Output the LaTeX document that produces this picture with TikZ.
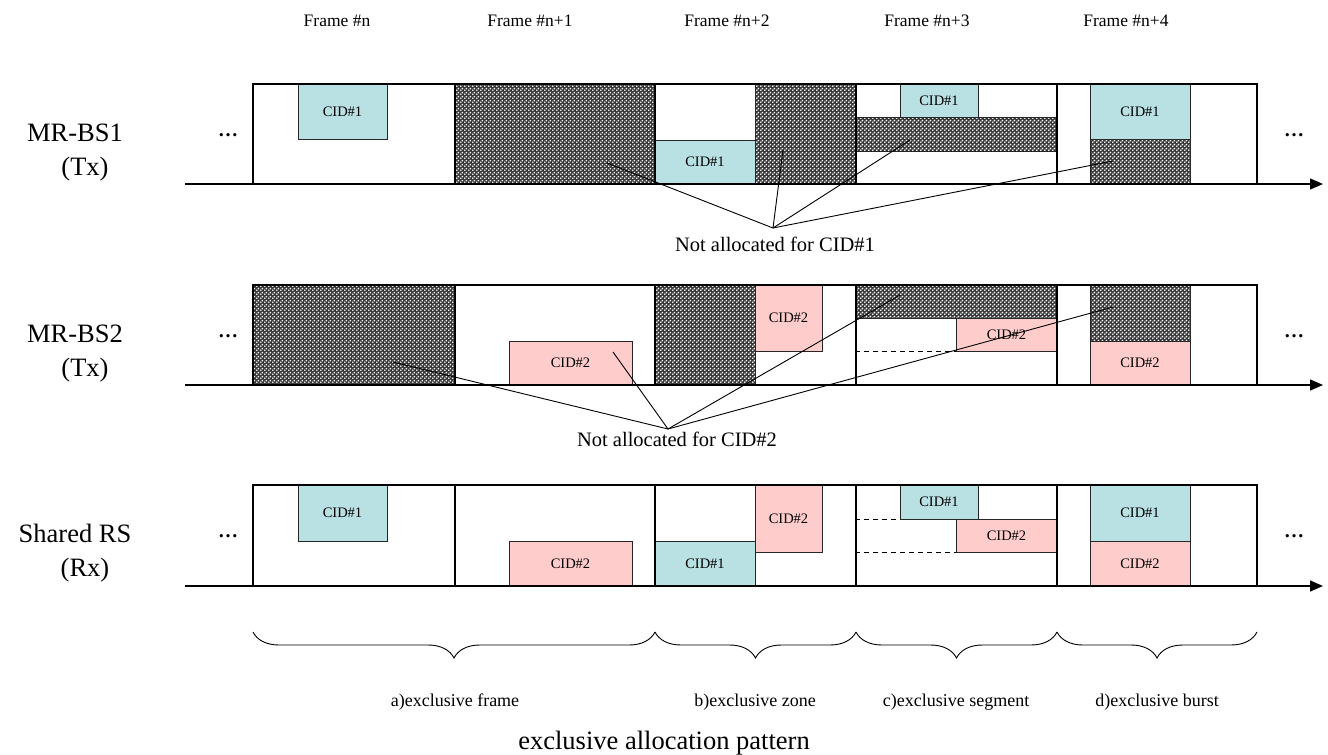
\documentclass[tikz,border=0pt]{standalone}
\usepackage{fontspec}
\setmainfont{Liberation Serif}
\usetikzlibrary{patterns,decorations.pathreplacing,arrows.meta}
\pgfdeclarepatternformonly{meshdots}{\pgfpointorigin}{\pgfpoint{4pt}{4pt}}{\pgfpoint{4pt}{4pt}}{%
  \pgfpathcircle{\pgfpoint{1pt}{1pt}}{1.1pt}%
  \pgfpathcircle{\pgfpoint{3pt}{3pt}}{1.1pt}%
  \pgfusepath{fill}}
\definecolor{cidA}{HTML}{B9E0E3}
\definecolor{cidB}{HTML}{FFCCCC}
\newcommand\blk[7]{\node[#2, minimum width={(#5)-(#3)}, minimum height={(#6)-(#4)}] (#1) at ({((#3)+(#5))/2},{((#4)+(#6))/2}) {#7};}
\begin{document}
\begin{tikzpicture}[x=1pt,y=-1pt,
  blkbase/.style={inner sep=0pt, outer sep=0pt, draw=black!85, line width=0.9pt, anchor=center},
  cidone/.style={blkbase, fill=cidA, font=\fontsize{14.5}{16}\selectfont},
  cidtwo/.style={blkbase, fill=cidB, font=\fontsize{14.5}{16}\selectfont},
  hatch/.style={blkbase, preaction={fill=black!78}, pattern=meshdots, pattern color=white},
  framebox/.style={inner sep=0pt, outer sep=0pt, draw, line width=2.2pt, anchor=center},
  axis/.style={line width=1.3pt, -{Triangle[length=13pt,width=11pt]}},
  pointer/.style={line width=0.9pt},
  dashline/.style={dashed, line width=0.9pt, dash pattern=on 5pt off 4pt},
  rowlbl/.style={font=\fontsize{26.5}{30}\selectfont, anchor=base},
  ttl/.style={font=\fontsize{17.5}{20}\selectfont, anchor=base},
  notal/.style={font=\fontsize{20.5}{24}\selectfont, anchor=base},
  brlbl/.style={font=\fontsize{18}{21}\selectfont, anchor=base},
  caplbl/.style={font=\fontsize{26.5}{30}\selectfont, anchor=base},
  dotlbl/.style={font=\fontsize{20}{22}\selectfont\bfseries, anchor=base},
  brace/.style={decorate, decoration={brace, mirror, amplitude=26pt}, line width=0.9pt}
]
\useasboundingbox (0,0) rectangle (1328,755);

% frame titles
\node[ttl] (t0) at (337,26) {Frame \#n};
\node[ttl] (t1) at (530,26) {Frame \#n+1};
\node[ttl] (t2) at (727,26) {Frame \#n+2};
\node[ttl] (t3) at (927,26) {Frame \#n+3};
\node[ttl] (t4) at (1126,26) {Frame \#n+4};

% row labels
\node[rowlbl] (l1a) at (75,141.5) {MR-BS1};
\node[rowlbl] (l1b) at (85,175) {(Tx)};
\node[rowlbl] (l2a) at (75,342.5) {MR-BS2};
\node[rowlbl] (l2b) at (85,376) {(Tx)};
\node[rowlbl] (l3a) at (75,542.5) {Shared RS};
\node[rowlbl] (l3b) at (85,576) {(Rx)};

% dots
\node[dotlbl] (d1l) at (228,136) {…};
\node[dotlbl] (d1r) at (1294,136) {…};
\node[dotlbl] (d2l) at (228,337) {…};
\node[dotlbl] (d2r) at (1294,337) {…};
\node[dotlbl] (d3l) at (228,537) {…};
\node[dotlbl] (d3r) at (1294,537) {…};

% axes
\coordinate (a1s) at (185,184); \coordinate (a1e) at (1323,184);
\coordinate (a2s) at (185,385); \coordinate (a2e) at (1323,385);
\coordinate (a3s) at (185,586); \coordinate (a3e) at (1323,586);
\draw[axis] (a1s) -- (a1e);
\draw[axis] (a2s) -- (a2e);
\draw[axis] (a3s) -- (a3e);

% ---------- row 1 : MR-BS1 ----------
\blk{h11}{hatch}{455}{84}{655}{184}{}
\blk{h12}{hatch}{755}{84}{855}{184}{}
\blk{h13}{hatch}{855}{117}{1057}{151}{}
\blk{h14}{hatch}{1090}{139}{1190}{184}{}
\blk{c11}{cidone}{298}{84}{387}{139}{CID\#1}
\blk{c12}{cidone}{655}{140}{755}{184}{CID\#1}
\blk{c13}{cidone}{900}{84}{978}{117}{CID\#1}
\blk{c14}{cidone}{1090}{84}{1190}{139}{CID\#1}

% ---------- row 2 : MR-BS2 ----------
\blk{h21}{hatch}{253}{285}{455}{385}{}
\blk{h22}{hatch}{655}{285}{755}{385}{}
\blk{h23}{hatch}{855}{285}{1057}{318}{}
\blk{h24}{hatch}{1090}{285}{1190}{341}{}
\blk{c21}{cidtwo}{509}{341}{632}{385}{CID\#2}
\blk{c22}{cidtwo}{755}{285}{822}{351}{CID\#2}
\blk{c23}{cidtwo}{956}{318}{1057}{351}{CID\#2}
\blk{c24}{cidtwo}{1090}{341}{1190}{385}{CID\#2}
\draw[dashline] (855,351) -- (c23.south west);

% ---------- row 3 : Shared RS ----------
\blk{c31}{cidone}{298}{485}{387}{541}{CID\#1}
\blk{c32}{cidtwo}{509}{541}{632}{586}{CID\#2}
\blk{c33}{cidone}{655}{541}{755}{586}{CID\#1}
\blk{c34}{cidtwo}{755}{485}{822}{552}{CID\#2}
\blk{c35}{cidone}{900}{485}{978}{519}{CID\#1}
\blk{c36}{cidtwo}{956}{519}{1057}{552}{CID\#2}
\blk{c37}{cidone}{1090}{485}{1190}{541}{CID\#1}
\blk{c38}{cidtwo}{1090}{541}{1190}{586}{CID\#2}
\draw[dashline] (855,519) -- (c35.south west);
\draw[dashline] (855,552) -- (c36.south west);

% frame outlines
\foreach \r/\ya/\yb in {1/84/184, 2/285/385, 3/485/586}{
  \blk{f\r a}{framebox}{253}{\ya}{455}{\yb}{}
  \blk{f\r b}{framebox}{455}{\ya}{655}{\yb}{}
  \blk{f\r c}{framebox}{655}{\ya}{856}{\yb}{}
  \blk{f\r d}{framebox}{856}{\ya}{1057}{\yb}{}
  \blk{f\r e}{framebox}{1057}{\ya}{1257}{\yb}{}
}

% not-allocated pointers, row 1
\node[notal] (n1) at (775,251) {Not allocated for CID\#1};
\coordinate (p1) at (773,228);
\coordinate (e11) at (607,163);
\coordinate (e12) at (783,150);
\coordinate (e13) at (910,140);
\coordinate (e14) at (1113,161);
\foreach \e in {e11,e12,e13,e14} \draw[pointer] (p1) -- (\e);

% not-allocated pointers, row 2
\node[notal] (n2) at (677,446) {Not allocated for CID\#2};
\coordinate (p2) at (668,429);
\coordinate (e21) at (393,362);
\coordinate (e22) at (613,352);
\coordinate (e23) at (900,295);
\coordinate (e24) at (1113,307);
\foreach \e in {e21,e22,e23,e24} \draw[pointer] (p2) -- (\e);

% braces
\coordinate (b0) at (253,632);
\coordinate (b1) at (655,632);
\coordinate (b2) at (856,632);
\coordinate (b3) at (1057,632);
\coordinate (b4) at (1257,632);
\draw[brace] (b0) -- (b1);
\draw[brace] (b1) -- (b2);
\draw[brace] (b2) -- (b3);
\draw[brace] (b3) -- (b4);
\node[brlbl] (ba) at (455,706) {a)exclusive frame};
\node[brlbl] (bb) at (755,706) {b)exclusive zone};
\node[brlbl] (bc) at (956,706) {c)exclusive segment};
\node[brlbl] (bd) at (1157,706) {d)exclusive burst};
\node[caplbl] (cap) at (664,749) {exclusive allocation pattern};
\end{tikzpicture}
\end{document}
